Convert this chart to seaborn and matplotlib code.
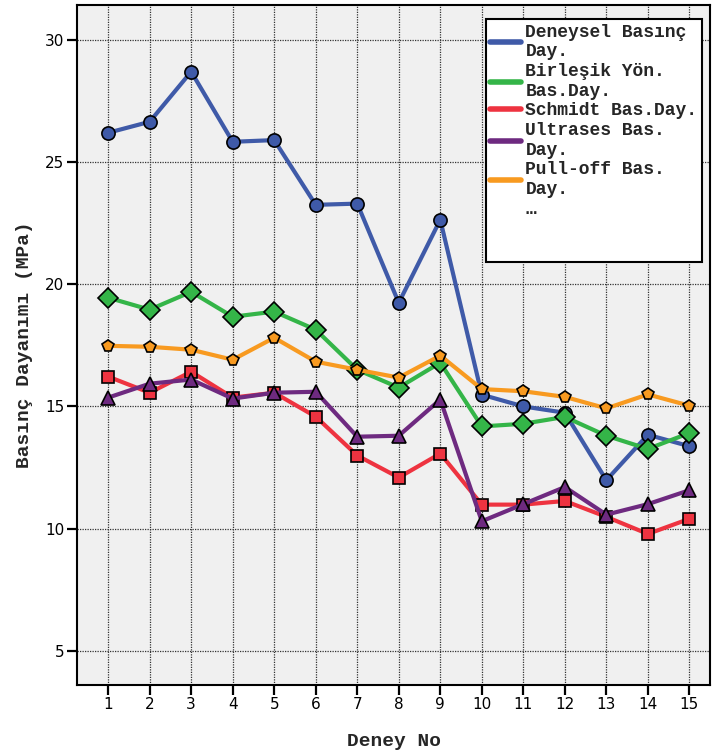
import numpy as np
import pandas as pd
import seaborn as sns
from matplotlib import pyplot as plt
from matplotlib.lines import Line2D

# Deney numaraları ve ölçülen basınç dayanımları (MPa)
deney_no = list(range(1, 16))
deneysel = [26.2, 26.65, 28.7, 25.83, 25.9, 23.25, 23.3, 19.24, 22.64,
            15.48, 15.0, 14.74, 11.98, 13.84, 13.37]
birlesik = [19.45, 18.96, 19.69, 18.67, 18.88, 18.14, 16.5, 15.77, 16.79,
            14.18, 14.29, 14.57, 13.8, 13.26, 13.91]
schmidt = [16.22, 15.56, 16.42, 15.36, 15.56, 14.58, 12.99, 12.09, 13.07,
           10.98, 10.98, 11.13, 10.48, 9.78, 10.4]
ultrases = [15.36, 15.93, 16.1, 15.32, 15.56, 15.6, 13.76, 13.8, 15.28,
            10.3, 11.0, 11.7, 10.57, 11.0, 11.57]
pulloff = [17.48, 17.44, 17.32, 16.91, 17.81, 16.83, 16.5, 16.18, 17.08,
           15.71, 15.62, 15.39, 14.92, 15.49, 15.03]

seri_adlari = ["Deneysel Basınç\nDay.", "Birleşik Yön.\nBas.Day.",
               "Schmidt Bas.Day.", "Ultrases Bas.\nDay.", "Pull-off Bas.\nDay."]
seriler = [deneysel, birlesik, schmidt, ultrases, pulloff]
renkler = ["#3f5aa8", "#34b548", "#ee3340", "#6e2a80", "#f89a20"]
isaretler = ["o", "D", "s", "^", "p"]
boyutlar = [9.5, 10, 9, 9.5, 8.5]

sns.set_style("white")
plt.rcParams["font.family"] = ["DejaVu Sans"]

fig = plt.figure(figsize=(7.13, 7.56), dpi=100)
ax = fig.add_axes([0.108, 0.094, 0.888, 0.8994])
ax.set_facecolor("#f0f0f0")

for ad, deger, renk, isaret, boy in zip(seri_adlari, seriler, renkler, isaretler, boyutlar):
    sns.lineplot(x=deney_no, y=deger, ax=ax, color=renk, linewidth=3,
                 marker=isaret, markersize=boy, mec="black", mew=1.2)

ax.set_xlim(0.25, 15.5)
ax.set_ylim(3.6, 31.43)
ax.set_xticks(deney_no)
ax.set_yticks([5, 10, 15, 20, 25, 30])
ax.grid(True, linestyle=(0, (1, 1)), color="#333333", linewidth=0.9)
ax.set_axisbelow(True)
for sp in ax.spines.values():
    sp.set_color("black")
    sp.set_linewidth(1.5)
ax.tick_params(axis="both", direction="out", length=7, width=1.6, pad=2,
               labelsize=11, colors="black", bottom=True, left=True)

mono = {"family": "Liberation Mono", "weight": "bold", "size": 14}
ax.set_xlabel("Deney No", fontdict=mono, labelpad=15)
ax.set_ylabel("Basınç Dayanımı (MPa)", fontdict=mono, labelpad=9)

# Lejant: sadece çizgiler, sonda "…" satırı
tutucular = [Line2D([], [], color=r, linewidth=4) for r in renkler]
tutucular += [Line2D([], [], color="none")] * 3
etiketler = seri_adlari + ["…", " ", " "]
leg = ax.legend(tutucular, etiketler, loc="upper right",
                bbox_to_anchor=(0.987, 0.979), frameon=True, fancybox=False,
                prop={"family": "Liberation Mono", "weight": "bold", "size": 13},
                handlelength=1.7, handletextpad=0.25, borderpad=0.25,
                borderaxespad=0, labelspacing=0.15)
leg.get_frame().set_edgecolor("black")
leg.get_frame().set_linewidth(1.5)
leg.get_frame().set_facecolor("white")
leg.get_frame().set_alpha(1)

fig.savefig("out.png", dpi=100)
